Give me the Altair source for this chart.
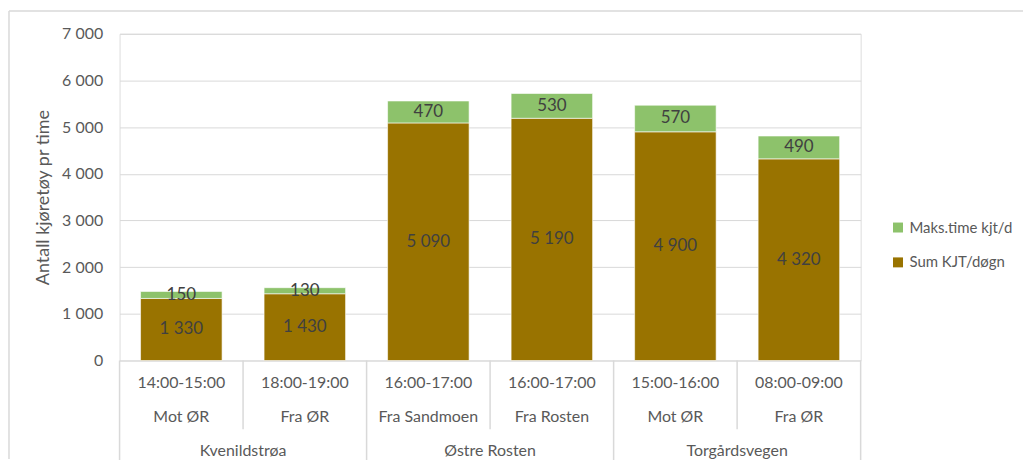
import altair as alt
import pandas as pd

groups = ["Kvenildstrøa", "Kvenildstrøa", "Østre Rosten", "Østre Rosten", "Torgårdsvegen", "Torgårdsvegen"]
directions = ["Mot ØR", "Fra ØR", "Fra Sandmoen", "Fra Rosten", "Mot ØR", "Fra ØR"]
times = ["14:00-15:00", "18:00-19:00", "16:00-17:00", "16:00-17:00", "15:00-16:00", "08:00-09:00"]
sum_kjt = [1330, 1430, 5090, 5190, 4900, 4320]
maks_time = [150, 130, 470, 530, 570, 490]

series_names = ["Maks.time kjt/d", "Sum KJT/døgn"]
series_colors = ["#8DC26B", "#997300"]
y_ticks = [0, 1000, 2000, 3000, 4000, 5000, 6000, 7000]

FONT = "Lato"
W, H = 744, 328
PL, PT, PR, PB = 112, 25, 163, 99

ids = [f"c{i}" for i in range(len(groups))]
df = pd.DataFrame({"id": ids, "group": groups, "dir": directions, "time": times,
                   "sum": sum_kjt, "maks": maks_time})
long = pd.DataFrame({
    "id": ids * 2,
    "series": [series_names[1]] * len(ids) + [series_names[0]] * len(ids),
    "value": sum_kjt + maks_time,
    "order": [0] * len(ids) + [1] * len(ids),
})

grp_rows = []
for g in dict.fromkeys(groups):
    members = [i for i, gg in zip(ids, groups) if gg == g]
    grp_rows.append({"group": g, "first": members[0], "center": members[len(members) // 2]})
grp_df = pd.DataFrame(grp_rows)
inner_df = pd.DataFrame({"id": [i for i, g, p in zip(ids[1:], groups[1:], groups[:-1]) if g == p]})
last_df = pd.DataFrame({"id": [ids[-1]]})

xscale = alt.Scale(domain=ids, paddingInner=0, paddingOuter=0)

def X(field="id", bp=None):
    if bp is None:
        return alt.X(f"{field}:N", scale=xscale, axis=None)
    return alt.X(f"{field}:N", scale=xscale, axis=None, bandPosition=bp)

yscale = alt.Scale(domain=[0, 7000], nice=False)

bars = alt.Chart(long).mark_bar(width=alt.RelativeBandSize(0.66), stroke="#ffffff", strokeWidth=0.6).encode(
    x=X(),
    y=alt.Y("value:Q", stack="zero", scale=yscale,
            axis=alt.Axis(values=y_ticks, format=",.0f", title="Antall kjøretøy pr time",
                          grid=True, gridColor="#d9d9d9", gridWidth=1, domain=False, ticks=False,
                          labelPadding=17, labelFont=FONT, labelFontSize=16, labelColor="#595959",
                          titleFont=FONT, titleFontSize=18, titleFontWeight="normal",
                          titleColor="#595959", titlePadding=9)),
    color=alt.Color("series:N", scale=alt.Scale(domain=series_names, range=series_colors),
                    legend=alt.Legend(title=None, orient="none", legendX=774, legendY=187,
                                      symbolType="square", symbolSize=100, symbolStrokeWidth=0,
                                      labelFont=FONT, labelFontSize=15, labelColor="#595959",
                                      rowPadding=19, labelOffset=4)),
    order=alt.Order("order:Q"),
)

lab_sum = alt.Chart(df).transform_calculate(mid="datum.sum / 2").mark_text(
    font=FONT, fontSize=17, color="#404040", baseline="middle").encode(
    x=X(), y=alt.Y("mid:Q", scale=yscale), text=alt.Text("sum:Q", format=",.0f"))

lab_maks = alt.Chart(df).transform_calculate(mid="datum.sum + datum.maks / 2").mark_text(
    font=FONT, fontSize=17, color="#404040", baseline="middle").encode(
    x=X(), y=alt.Y("mid:Q", scale=yscale), text=alt.Text("maks:Q", format=",.0f"))

lab_time = alt.Chart(df).mark_text(font=FONT, fontSize=16, color="#595959", baseline="middle").encode(
    x=X(), y=alt.value(H + 23), text="time:N")
lab_dir = alt.Chart(df).mark_text(font=FONT, fontSize=16, color="#595959", baseline="middle").encode(
    x=X(), y=alt.value(H + 57), text="dir:N")
lab_grp = alt.Chart(grp_df).mark_text(font=FONT, fontSize=16, color="#595959", baseline="middle").encode(
    x=X("center", 0), y=alt.value(H + 91), text="group:N")

sep_outer = alt.Chart(grp_df).mark_rule(color="#d9d9d9", strokeWidth=1.5).encode(
    x=X("first", 0), y=alt.value(H), y2=alt.value(H + 102))
sep_last = alt.Chart(last_df).mark_rule(color="#d9d9d9", strokeWidth=1.5).encode(
    x=X("id", 1), y=alt.value(H), y2=alt.value(H + 102))
sep_inner = alt.Chart(inner_df).mark_rule(color="#d9d9d9", strokeWidth=1.5).encode(
    x=X("id", 0), y=alt.value(H), y2=alt.value(H + 69))

border_top = alt.Chart(last_df).mark_rule(color="#d9d9d9", strokeWidth=1.5).encode(
    x=alt.value(-PL + 1), x2=alt.value(W + PR), y=alt.value(-PT + 2))
border_left = alt.Chart(last_df).mark_rule(color="#d9d9d9", strokeWidth=1.5).encode(
    x=alt.value(-PL + 1), y=alt.value(-PT + 2), y2=alt.value(H + PB))

chart = alt.layer(bars, lab_sum, lab_maks, lab_time, lab_dir, lab_grp,
                  sep_outer, sep_last, sep_inner, border_top, border_left).properties(
    width=W, height=H,
    autosize=alt.AutoSizeParams(type="none"),
    padding={"left": PL, "top": PT, "right": PR, "bottom": PB},
).configure_view(stroke=None).configure(
    locale={"number": {"decimal": ",", "thousands": " ", "grouping": [3], "currency": ["", " kr"]}}
)

chart.save("out.html", embed_options={"renderer": "svg", "actions": False})
